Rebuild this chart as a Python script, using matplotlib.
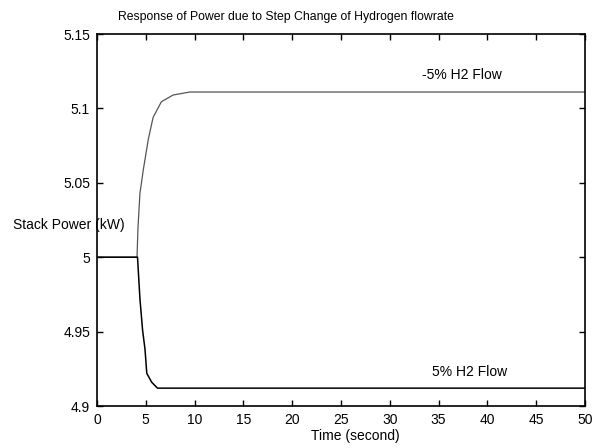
import matplotlib
matplotlib.use('Agg')
import matplotlib.pyplot as plt
from matplotlib.ticker import FixedLocator

plt.rcParams['font.family'] = ['Liberation Sans', 'DejaVu Sans']

# --- values ---
t_up = [0, 4.1, 4.2, 4.4, 4.75, 5.25, 5.75, 6.6, 7.8, 9.5, 12, 50]
p_up = [5.0, 5.0, 5.02, 5.043, 5.059, 5.079, 5.094, 5.1045, 5.109, 5.111, 5.111, 5.111]

t_down = [0, 4.15, 4.4, 4.67, 4.92, 5.1, 5.6, 6.2, 8, 50]
p_down = [5.0, 5.0, 4.972, 4.951, 4.938, 4.922, 4.916, 4.912, 4.912, 4.912]

x_ticks = [0, 5, 10, 15, 20, 25, 30, 35, 40, 45, 50]
y_ticks = [4.9, 4.95, 5.0, 5.05, 5.1, 5.15]
y_labels = ['4.9', '4.95', '5', '5.05', '5.1', '5.15']

fig = plt.figure(figsize=(5.99, 4.48), dpi=100)
ax = fig.add_axes([97 / 599, 1 - 406 / 448, 488 / 599, 372 / 448])

ax.plot(t_up, p_up, color='#555555', lw=0.9)
ax.plot(t_down, p_down, color='black', lw=1.1)

ax.set_xlim(0, 50)
ax.set_ylim(4.9, 5.15)
ax.xaxis.set_major_locator(FixedLocator(x_ticks))
ax.set_yticks(y_ticks)
ax.set_yticklabels(y_labels)
ax.tick_params(direction='in', top=True, right=True, labelsize=10, length=4, width=1)
ax.tick_params(axis='y', pad=5)
ax.tick_params(axis='x', pad=5)
for s in ax.spines.values():
    s.set_linewidth(1.2)

ax.text(37.4, 5.1224, '-5% H2 Flow', fontsize=10, ha='center', va='center')
ax.text(38.2, 4.9228, '5% H2 Flow', fontsize=10, ha='center', va='center')

# text labels placed like the MATLAB original
fig.text(13 / 599, 1 - 225 / 448, 'Stack Power (kW)', fontsize=10, ha='left', va='center')
fig.text(355 / 599, 1 - 436 / 448, 'Time (second)', fontsize=10, ha='center', va='center')
fig.text(286 / 599, 1 - 17 / 448, 'Response of Power due to Step Change of Hydrogen flowrate',
         fontsize=8.8, ha='center', va='center')

fig.savefig('out.png', dpi=100)
